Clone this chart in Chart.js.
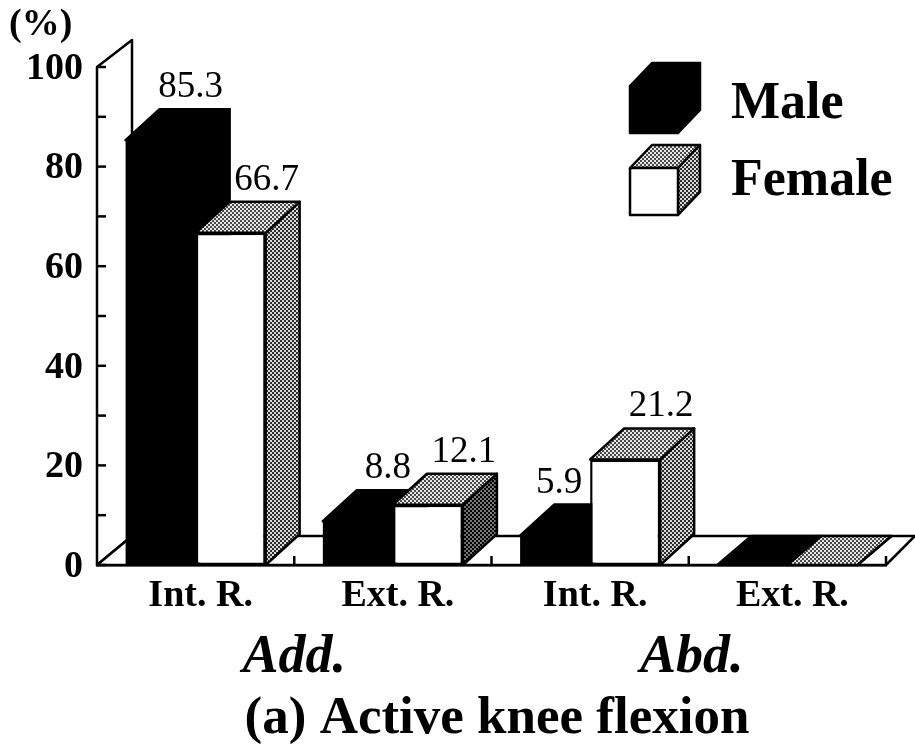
<!DOCTYPE html>
<html>
<head>
<meta charset="utf-8">
<style>html,body{margin:0;padding:0;background:#fff}canvas{display:block}</style>
<script src="https://cdn.jsdelivr.net/npm/chart.js@4"></script>
</head>
<body>
<canvas id="c" width="915" height="744"></canvas>
<script>
const categories = ['Int. R.', 'Ext. R.', 'Int. R.', 'Ext. R.'];
const maleValues = [85.3, 8.8, 5.9, 0];
const femaleValues = [66.7, 12.1, 21.2, 0];
const maleLabels = ['85.3', '8.8', '5.9', ''];
const femaleLabels = ['66.7', '12.1', '21.2', ''];
const yTickLabels = ['0', '20', '40', '60', '80', '100'];
const groupLabels = ['Add.', 'Abd.'];
const legendNames = ['Male', 'Female'];
const caption = '(a) Active knee flexion';
const yUnit = '(%)';

const SERIF = '"Liberation Serif","Times New Roman",serif';
const LINE = 2.5;

function dither(a, b) {
  const p = document.createElement('canvas');
  p.width = p.height = 4;
  const g = p.getContext('2d');
  g.fillStyle = b; g.fillRect(0, 0, 4, 4);
  g.fillStyle = a; g.fillRect(0, 0, 2, 2); g.fillRect(2, 2, 2, 2);
  return g.createPattern(p, 'repeat');
}

function poly(ctx, pts, fill) {
  ctx.beginPath();
  pts.forEach((p, i) => i ? ctx.lineTo(p[0], p[1]) : ctx.moveTo(p[0], p[1]));
  ctx.closePath();
  if (fill) { ctx.fillStyle = fill; ctx.fill(); }
  ctx.strokeStyle = '#000'; ctx.lineWidth = LINE; ctx.lineJoin = 'round'; ctx.stroke();
}

const depthPlugin = {
  id: 'depth',
  beforeDatasetsDraw(chart) {
    const ctx = chart.ctx, ys = chart.scales.y, a = chart.chartArea;
    const base = ys.getPixelForValue(0), topY = ys.getPixelForValue(100);
    const midGrey = dither('#2e2e2e', '#d8d8d8');
    const lightGrey = dither('#4a4a4a', '#e6e6e6');
    const darkGrey = dither('#000', '#777');
    ctx.save();
    // side wall and floor
    poly(ctx, [[a.left, topY], [a.left + 35, topY - 27], [a.left + 35, base - 29], [a.left, base]], '#fff');
    poly(ctx, [[a.left, base], [a.left + 35, base - 29], [a.right + 29, base - 29], [a.right, base]], '#fff');
    // inward ticks
    ctx.strokeStyle = '#000'; ctx.lineWidth = LINE;
    ys.ticks.forEach(t => {
      const y = ys.getPixelForValue(t.value);
      ctx.beginPath(); ctx.moveTo(a.left, y); ctx.lineTo(a.left + 9, y); ctx.stroke();
    });
    const step = (a.right - a.left) / categories.length;
    for (let i = 1; i <= categories.length; i++) {
      const x = a.left + step * i;
      ctx.beginPath(); ctx.moveTo(x, base); ctx.lineTo(x, base - 9); ctx.stroke();
    }
    // extruded faces
    const dx = 34;
    [0, 1].forEach(ds => {
      chart.getDatasetMeta(ds).data.forEach((b, i) => {
        const l = b.x - b.width / 2, r = b.x + b.width / 2, t = b.y, bt = b.base;
        const dy = (maleValues[i] === 0 && femaleValues[i] === 0) ? 29 : 31;
        const top = [[l, t], [l + dx, t - dy], [r + dx, t - dy], [r, t]];
        const side = [[r, t], [r + dx, t - dy], [r + dx, bt - dy], [r, bt]];
        if (ds === 0) {
          poly(ctx, side, '#000');
          poly(ctx, top, '#000');
        } else {
          poly(ctx, side, i === 1 ? darkGrey : midGrey);
          poly(ctx, top, lightGrey);
        }
      });
    });
    ctx.restore();
  },
  afterDraw(chart) {
    const ctx = chart.ctx, xs = chart.scales.x;
    ctx.save();
    ctx.fillStyle = '#000';
    ctx.textBaseline = 'alphabetic';
    // value labels
    ctx.textAlign = 'center';
    ctx.font = '37px ' + SERIF;
    const dy = 31;
    [[maleLabels, 0], [femaleLabels, 1]].forEach(([labels, ds]) => {
      chart.getDatasetMeta(ds).data.forEach((b, i) => {
        if (!labels[i]) return;
        let shift = ds === 0 ? 30 : 36;
        if (ds === 0 && b.y - dy > chart.getDatasetMeta(1).data[i].y) shift = 4;
        ctx.fillText(labels[i], b.x + shift, b.y - dy - 12);
      });
    });
    // unit
    ctx.textAlign = 'left';
    ctx.font = 'bold 38px ' + SERIF;
    ctx.fillText(yUnit, 9, 35);
    // group labels
    ctx.textAlign = 'center';
    ctx.font = 'italic bold 54px ' + SERIF;
    ctx.fillText(groupLabels[0], (xs.getPixelForValue(0) + xs.getPixelForValue(1)) / 2, 672);
    ctx.fillText(groupLabels[1], (xs.getPixelForValue(2) + xs.getPixelForValue(3)) / 2 + 3, 672);
    // caption
    ctx.font = 'bold 53px ' + SERIF;
    ctx.fillText(caption, 497, 733);
    // legend
    const fx = 630, fw = 48, fh = 47, ldx = 22, ldy = 23;
    const cube = (y, front, topFill, sideFill) => {
      poly(ctx, [[fx, y], [fx + ldx, y - ldy], [fx + fw + ldx, y - ldy], [fx + fw, y]], topFill);
      poly(ctx, [[fx + fw, y], [fx + fw + ldx, y - ldy], [fx + fw + ldx, y + fh - ldy], [fx + fw, y + fh]], sideFill);
      poly(ctx, [[fx, y], [fx + fw, y], [fx + fw, y + fh], [fx, y + fh]], front);
    };
    cube(86, '#000', '#000', '#000');
    cube(168, '#fff', dither('#4a4a4a', '#e6e6e6'), dither('#2e2e2e', '#d8d8d8'));
    ctx.fillStyle = '#000';
    ctx.textAlign = 'left';
    ctx.font = 'bold 52px ' + SERIF;
    ctx.fillText(legendNames[0], 731, 118);
    ctx.fillText(legendNames[1], 731, 195);
    ctx.restore();
  }
};

new Chart(document.getElementById('c'), {
  type: 'bar',
  data: {
    labels: categories,
    datasets: [
      { label: legendNames[0], data: maleValues, backgroundColor: '#000', borderWidth: 0 },
      { label: legendNames[1], data: femaleValues, backgroundColor: '#fff', borderColor: '#000', borderWidth: LINE, borderSkipped: false }
    ]
  },
  options: {
    responsive: false,
    animation: false,
    devicePixelRatio: 1,
    layout: { padding: { left: 0, top: 67, right: 29, bottom: 0 } },
    plugins: { legend: { display: false }, title: { display: false }, tooltip: { enabled: false } },
    scales: {
      x: {
        afterFit(s) { s.height = 179; },
        offset: true,
        grid: { display: false },
        border: { display: true, color: '#000', width: LINE },
        ticks: { color: '#000', padding: 0, labelOffset: 5, maxRotation: 0, font: { family: SERIF, size: 38, weight: 'bold' } }
      },
      y: {
        afterFit(s) { s.width = 97; },
        min: 0, max: 100,
        grid: { display: false, drawTicks: false },
        border: { display: true, color: '#000', width: LINE },
        ticks: {
          stepSize: 10, color: '#000', padding: 14, labelOffset: 2,
          autoSkip: false,
          font: { family: SERIF, size: 38, weight: 'bold' },
          callback: v => yTickLabels.includes(String(v)) ? String(v) : ''
        }
      }
    },
    datasets: { bar: { barPercentage: 1, categoryPercentage: 0.71 } }
  },
  plugins: [depthPlugin]
});
</script>
</body>
</html>
